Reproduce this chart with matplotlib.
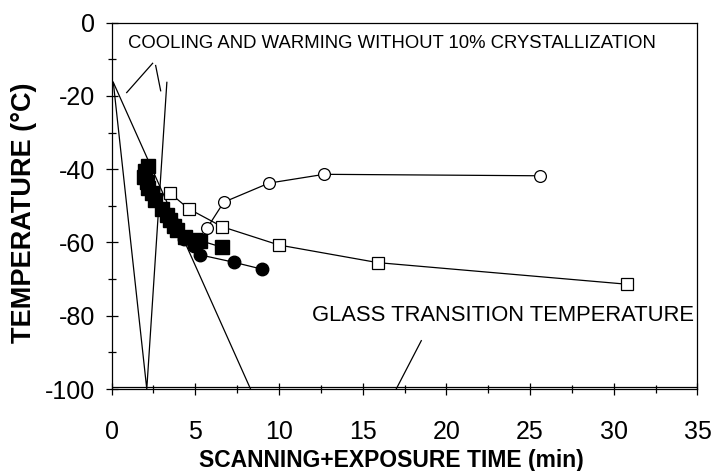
import matplotlib
matplotlib.use("Agg")
import matplotlib.pyplot as plt
from matplotlib.ticker import MultipleLocator

plt.rcParams['font.family'] = ['Liberation Sans', 'DejaVu Sans']
plt.rcParams['axes.unicode_minus'] = False

# open circles
oc_x = [5.7, 6.7, 9.4, 12.7, 25.6]
oc_y = [-56.1, -49.0, -43.8, -41.4, -41.8]

# open squares
os_x = [3.5, 4.6, 6.6, 10.0, 15.9, 30.8]
os_y = [-46.6, -50.8, -55.7, -60.7, -65.5, -71.4]

# filled squares
fs_x = [2.2, 2.0, 1.95, 2.1, 2.2, 2.4, 2.6, 3.0, 3.3, 3.5, 3.7, 3.9, 4.4, 5.0, 5.3, 6.6]
fs_y = [-39.0, -40.5, -42.0, -43.5, -45.0, -46.5, -48.5, -51.0, -52.5, -54.0,
        -55.5, -56.5, -58.5, -59.3, -59.5, -61.3]

# filled circles
fc_x = [3.3, 3.6, 3.9, 4.3, 4.9, 5.3, 7.3, 9.0]
fc_y = [-52.5, -54.5, -56.5, -59.0, -61.0, -63.4, -65.4, -67.3]

# cooling / warming profiles
cw1_x = [0.1, 2.1, 3.3]
cw1_y = [-16.3, -100.0, -16.3]
cw2_x = [0.1, 8.3]
cw2_y = [-16.3, -100.0]

# glass transition temperature
tg_x = [0, 35]
tg_y = [-99.4, -99.4]

# pointer lines for the labels
p1_x = [0.9, 2.45]
p1_y = [-19.1, -11.1]
p2_x = [2.63, 2.93]
p2_y = [-11.7, -18.6]
p3_x = [18.5, 17.0]
p3_y = [-86.8, -100.0]

fig = plt.figure(figsize=(7.11, 4.71), dpi=100)
ax = fig.add_axes([0.157, 0.174, 0.824, 0.778])

lw = 0.9
ax.plot(cw1_x, cw1_y, color='black', lw=lw)
ax.plot(cw2_x, cw2_y, color='black', lw=lw)
ax.plot(tg_x, tg_y, color='black', lw=lw)
for px, py in [(p1_x, p1_y), (p2_x, p2_y), (p3_x, p3_y)]:
    ax.plot(px, py, color='black', lw=lw)

ax.plot(oc_x, oc_y, '-o', color='black', lw=lw, ms=8.5, mfc='white', mew=0.9)
ax.plot(os_x, os_y, '-s', color='black', lw=lw, ms=8.5, mfc='white', mew=0.9)
ax.plot(fs_x, fs_y, '-s', color='black', lw=lw, ms=10)
ax.plot(fc_x, fc_y, '-o', color='black', lw=lw, ms=9)

ax.text(0.97, -5.8, 'COOLING AND WARMING WITHOUT 10% CRYSTALLIZATION',
        fontsize=13.3, va='center', ha='left')
ax.text(11.96, -80, 'GLASS TRANSITION TEMPERATURE',
        fontsize=15.8, va='center', ha='left')

ax.set_xlim(0, 35)
ax.set_ylim(-100, 0)
ax.xaxis.set_major_locator(MultipleLocator(5))
ax.xaxis.set_minor_locator(MultipleLocator(2.5))
ax.yaxis.set_major_locator(MultipleLocator(20))
ax.yaxis.set_minor_locator(MultipleLocator(10))
ax.tick_params(which='both', direction='inout', labelsize=18, width=0.9)
ax.tick_params(which='major', length=8)
ax.tick_params(which='minor', length=6)
ax.tick_params(axis='x', pad=18)
ax.tick_params(axis='y', pad=8)
ax.tick_params(top=False, right=False)
for s in ax.spines.values():
    s.set_linewidth(0.9)

ax.set_xlabel('SCANNING+EXPOSURE TIME (min)', fontsize=16.5, fontweight='bold')
ax.xaxis.set_label_coords(0.478, -0.163)
ax.set_ylabel('TEMPERATURE (°C)', fontsize=19.5, fontweight='bold')
ax.yaxis.set_label_coords(-0.127, 0.48)

fig.savefig('out.png', dpi=100)
